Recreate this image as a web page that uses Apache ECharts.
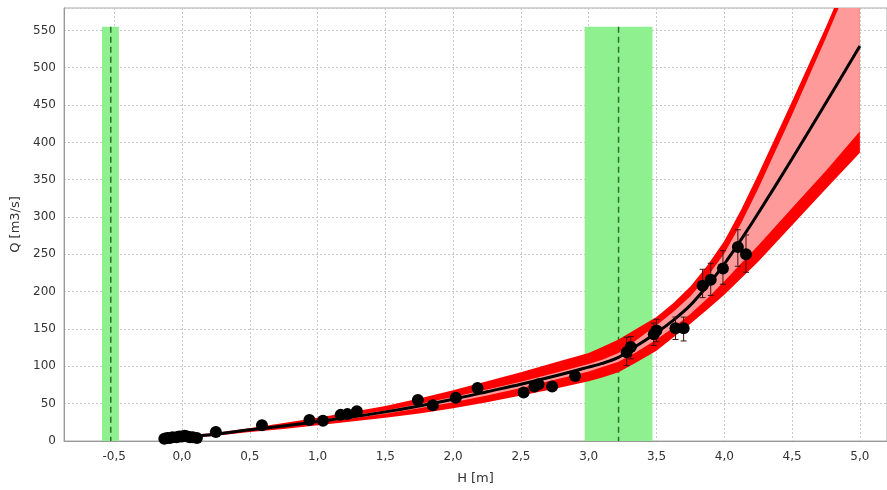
<!DOCTYPE html>
<html>
<head>
<meta charset="utf-8">
<script src="https://cdn.jsdelivr.net/npm/echarts@6/dist/echarts.min.js"></script>
<style>html,body{margin:0;padding:0;background:#fff;}#c{width:887px;height:490px;}</style>
</head>
<body>
<div id="c"></div>
<script>
// Rating curve grid (H in m) and curve / uncertainty bands (Q in m3/s)
const curveH    = [-0.12, 0, 0.25, 0.5, 0.75, 1.0, 1.25, 1.5, 1.75, 2.0, 2.25, 2.5, 2.75, 3.0, 3.1, 3.22, 3.35, 3.5, 3.625, 3.75, 3.875, 4.0, 4.125, 4.25, 4.5, 4.75, 5.0];
const curveQ    = [2, 5, 9, 15, 20, 26, 32, 39, 47, 56, 66, 76, 87, 99, 104, 112, 127, 145, 162, 182, 208, 237, 270, 305, 378, 453, 529];
const outerHigh = [3, 6.5, 11, 17, 24, 31, 39, 47, 57, 68, 80, 92, 105, 118, 126, 136, 150, 166, 185, 207, 235, 268, 310, 357, 455, 555, 660];
const innerHigh = [2.5, 5.5, 10, 16, 21, 27.5, 34, 41, 49.5, 59, 69, 79.5, 91, 103, 109, 118, 135, 155, 173, 194, 220, 251, 292, 338, 437, 540, 648];
const innerLow  = [1.5, 4.5, 8.5, 14, 19, 24.5, 30, 36.5, 44, 52, 61, 71, 82, 93, 99, 106, 119, 136, 152, 170, 191, 214, 238, 262, 312, 362, 415];
const outerLow  = [1, 3.5, 7, 12, 16, 21, 26, 31, 37, 44, 52, 61, 70, 80, 85, 92, 105, 121, 139, 157, 176, 196, 218, 240, 289, 338, 386];

// Gaugings
const pointH = [-0.13, -0.11, -0.09, -0.07, -0.04, -0.02, 0.0, 0.02, 0.04, 0.06, 0.08, 0.11, 0.25, 0.59, 0.94, 1.04, 1.17, 1.22, 1.29, 1.74, 1.85, 2.02, 2.18, 2.52, 2.60, 2.63, 2.73, 2.90, 3.28, 3.31, 3.48, 3.50, 3.64, 3.70, 3.84, 3.90, 3.99, 4.10, 4.16];
const pointQ = [3, 4, 4, 5, 5, 6, 6, 7, 6, 5, 5, 4, 12, 21, 28, 27, 35, 36, 40, 55, 48, 58, 71, 65, 73, 76, 73, 87, 119, 126, 143, 148, 151, 151, 208, 216, 231, 260, 250];

// Error bars of gaugings
const errH    = [3.28, 3.31, 3.48, 3.50, 3.64, 3.70, 3.84, 3.90, 3.99, 4.10, 4.16];
const errLow  = [101, 110, 128, 133, 136, 134, 192, 195, 210, 234, 226];
const errHigh = [139, 140, 158, 163, 166, 166, 230, 238, 255, 283, 276];

// Green zones (H ranges), their dashed centre lines and top
const zoneFrom = [-0.59, 2.97];
const zoneTo   = [-0.465, 3.47];
const zoneMid  = [-0.525, 3.22];
const zoneTop  = 555;

const xTickFmt = v => (Math.abs(v) < 1e-9 ? 0 : v).toFixed(1).replace('.', ',');

function bandSeries(upper, lower, color, z) {
  return {
    type: 'custom', z: z, silent: true,
    data: [0],
    renderItem: function (params, api) {
      const pts = [];
      for (let i = 0; i < curveH.length; i++) pts.push(api.coord([curveH[i], upper[i]]));
      for (let i = curveH.length - 1; i >= 0; i--) pts.push(api.coord([curveH[i], lower[i]]));
      const cs = params.coordSys;
      return {
        type: 'group',
        clipPath: { type: 'rect', shape: { x: cs.x, y: cs.y, width: cs.width, height: cs.height } },
        children: [{ type: 'polygon', shape: { points: pts }, style: { fill: color } }]
      };
    }
  };
}

const zonesData = zoneFrom.map((f, i) => [f, zoneTo[i], zoneMid[i]]);

const option = {
  animation: false,
  textStyle: { fontFamily: 'DejaVu Sans' },
  grid: { left: 64, right: 0, top: 8, bottom: 46, show: true, borderColor: '#aaa', borderWidth: 1, backgroundColor: 'transparent' },
  xAxis: {
    type: 'value', min: -0.87, max: 5.2, splitNumber: 12,
    name: 'H [m]', nameLocation: 'middle', nameGap: 31,
    nameTextStyle: { fontSize: 13, color: '#333', fontFamily: 'DejaVu Sans' },
    axisLine: { show: true, onZero: false, lineStyle: { color: '#999' } },
    axisTick: { show: false },
    axisLabel: { formatter: xTickFmt, color: '#333', fontSize: 12, margin: 10, showMinLabel: false, showMaxLabel: false },
    splitLine: { show: true, lineStyle: { color: '#c8c8c8', type: [2, 2], width: 1 } }
  },
  yAxis: {
    type: 'value', min: 0, max: 580, interval: 50,
    name: 'Q [m3/s]', nameLocation: 'middle', nameGap: 42, nameRotate: 90,
    nameTextStyle: { fontSize: 13, color: '#333', fontFamily: 'DejaVu Sans' },
    axisLine: { show: true, onZero: false, lineStyle: { color: '#999' } },
    axisTick: { show: false },
    axisLabel: { color: '#333', fontSize: 12, margin: 8, showMaxLabel: false },
    splitLine: { show: true, lineStyle: { color: '#c8c8c8', type: [2, 2], width: 1 } }
  },
  series: [
    {
      type: 'custom', z: 1, silent: true,
      data: zonesData,
      renderItem: function (params, api) {
        const a = api.coord([api.value(0), zoneTop]);
        const b = api.coord([api.value(1), 0]);
        const m1 = api.coord([api.value(2), zoneTop]);
        const m2 = api.coord([api.value(2), 0]);
        return {
          type: 'group',
          children: [
            { type: 'rect', shape: { x: a[0], y: a[1], width: b[0] - a[0], height: b[1] - a[1] }, style: { fill: '#8ff08f' } },
            { type: 'line', shape: { x1: m1[0], y1: m1[1], x2: m2[0], y2: m2[1] }, style: { stroke: '#2f6e2f', lineWidth: 1.5, lineDash: [6, 4] } }
          ]
        };
      }
    },
    bandSeries(outerHigh, outerLow, '#ff0000', 2),
    bandSeries(innerHigh, innerLow, '#ff9a9a', 3),
    {
      type: 'line', z: 4, silent: true,
      data: curveH.map((h, i) => [h, curveQ[i]]),
      smooth: 0.3,
      showSymbol: false, symbol: 'none',
      lineStyle: { color: '#000', width: 3 }
    },
    {
      type: 'custom', z: 5, silent: true,
      data: errH.map((h, i) => [h, errLow[i], errHigh[i]]),
      renderItem: function (params, api) {
        const lo = api.coord([api.value(0), api.value(1)]);
        const hi = api.coord([api.value(0), api.value(2)]);
        const w = 3;
        const st = { stroke: '#3a1010', lineWidth: 1 };
        return {
          type: 'group',
          children: [
            { type: 'line', shape: { x1: lo[0], y1: lo[1], x2: hi[0], y2: hi[1] }, style: st },
            { type: 'line', shape: { x1: lo[0] - w, y1: lo[1], x2: lo[0] + w, y2: lo[1] }, style: st },
            { type: 'line', shape: { x1: hi[0] - w, y1: hi[1], x2: hi[0] + w, y2: hi[1] }, style: st }
          ]
        };
      }
    },
    {
      type: 'scatter', z: 6, silent: true,
      data: pointH.map((h, i) => [h, pointQ[i]]),
      symbol: 'circle', symbolSize: 12,
      itemStyle: { color: '#000', opacity: 1 }
    }
  ]
};

const chart = echarts.init(document.getElementById('c'), null, { renderer: 'canvas' });
chart.setOption(option);
</script>
</body>
</html>
